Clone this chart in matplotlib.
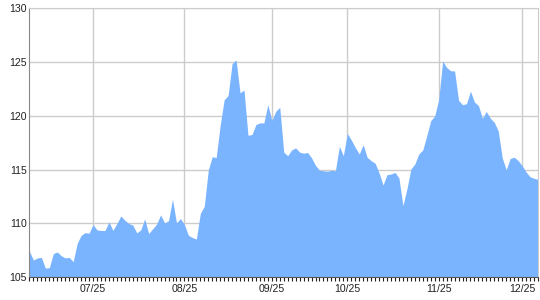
import matplotlib
matplotlib.use('Agg')
import matplotlib.pyplot as plt
import numpy as np

# daily values, left to right
values = [
    107.4, 106.6, 106.8, 106.85, 105.85, 105.9, 107.2, 107.35, 107.0, 106.8,
    106.85, 106.45, 108.15, 108.9, 109.15, 109.1, 109.9, 109.4, 109.35, 109.35,
    110.15, 109.35, 110.0, 110.7, 110.3, 110.0, 109.85, 109.13, 109.4, 110.43,
    109.07, 109.5, 109.94, 110.8, 110.06, 110.25, 112.26, 110.06, 110.46, 109.9,
    108.9, 108.7, 108.55, 110.93, 111.6, 114.95, 116.2, 116.13, 119.13, 121.5,
    121.9, 124.86, 125.2, 122.15, 122.4, 118.2, 118.27, 119.2, 119.35, 119.35,
    121.05, 119.57, 120.43, 120.8, 116.63, 116.3, 116.84, 117.03, 116.63, 116.53,
    116.6, 116.1, 115.4, 114.95, 114.9, 114.86, 114.95, 114.9, 117.17, 116.3,
    118.37, 117.76, 117.07, 116.46, 117.32, 116.15, 115.84, 115.6, 114.7, 113.58,
    114.54, 114.6, 114.75, 114.23, 111.66, 113.2, 115.06, 115.53, 116.46, 116.83,
    118.16, 119.55, 120.0, 121.5, 125.1, 124.5, 124.2, 124.18, 121.45, 121.04,
    121.13, 122.3, 121.29, 120.97, 119.78, 120.41, 119.78, 119.4, 118.6, 116.1,
    115.0, 116.04, 116.16, 115.85, 115.38, 114.78, 114.34, 114.2, 114.1,
]

# month boundaries (index of the first day of each month)
month_idx = [16, 39, 61, 80, 103, 124]
month_labels = ['07/25', '08/25', '09/25', '10/25', '11/25', '12/25']
y_ticks = [105, 110, 115, 120, 125, 130]

x = np.arange(len(values))

fig = plt.figure(figsize=(5.4, 3.0), dpi=100)
ax = fig.add_axes([0.0546, 0.0757, 0.9417, 0.8966])

ax.fill_between(x, values, 105, color='#7AB4FF', linewidth=0, zorder=2)

ax.set_xlim(0, len(values) - 1)
ax.set_ylim(105, 130)

ax.set_yticks(y_ticks)
ax.set_yticklabels([str(v) for v in y_ticks])
ax.set_xticks(month_idx)
ax.set_xticklabels(month_labels)
ax.set_xticks(x, minor=True)

ax.grid(True, which='major', color='#cccccc', linewidth=1, zorder=1)
ax.set_axisbelow(True)

ax.tick_params(axis='y', length=0, pad=2, labelsize=7.6, labelcolor='#222222')
ax.tick_params(axis='x', which='both', length=3, width=0.8, color='#222222',
               direction='out', pad=2, labelsize=7.6, labelcolor='#222222')

for name in ['top', 'right']:
    ax.spines[name].set_color('#cccccc')
ax.spines['left'].set_color('#888888')
ax.spines['bottom'].set_color('#555555')

for lbl in ax.get_xticklabels() + ax.get_yticklabels():
    lbl.set_fontfamily('Liberation Sans')

plt.savefig('out.png', dpi=100)
